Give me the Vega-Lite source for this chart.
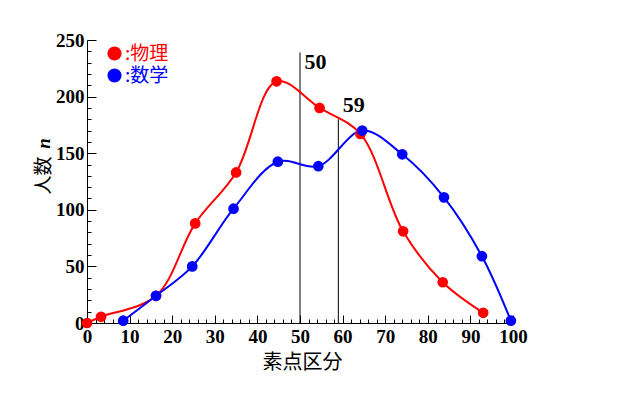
{
  "$schema": "https://vega.github.io/schema/vega-lite/v6.json",
  "width": 426,
  "height": 283,
  "autosize": {"type": "none"},
  "padding": {"left": 87, "top": 40, "right": 123, "bottom": 70},
  "background": "white",
  "config": {
    "view": {"stroke": null},
    "axis": {"grid": false, "domainColor": "black", "tickColor": "black", "labelColor": "black", "titleColor": "black", "domainWidth": 1, "tickWidth": 1}
  },
  "datasets": {
    "scores": [
      {"subject": "物理", "score": 0, "n": 0},
      {"subject": "物理", "score": 3.3, "n": 5.5},
      {"subject": "物理", "score": 16.2, "n": 24},
      {"subject": "物理", "score": 25.4, "n": 88},
      {"subject": "物理", "score": 35, "n": 133},
      {"subject": "物理", "score": 44.5, "n": 213.5},
      {"subject": "物理", "score": 54.6, "n": 190},
      {"subject": "物理", "score": 64.2, "n": 167},
      {"subject": "物理", "score": 74.2, "n": 81},
      {"subject": "物理", "score": 83.5, "n": 36},
      {"subject": "物理", "score": 93, "n": 9},
      {"subject": "数学", "score": 8.5, "n": 2},
      {"subject": "数学", "score": 16.2, "n": 24},
      {"subject": "数学", "score": 24.7, "n": 50},
      {"subject": "数学", "score": 34.4, "n": 101},
      {"subject": "数学", "score": 44.8, "n": 142.5},
      {"subject": "数学", "score": 54.3, "n": 138.5},
      {"subject": "数学", "score": 64.6, "n": 170},
      {"subject": "数学", "score": 74, "n": 149},
      {"subject": "数学", "score": 83.8, "n": 111},
      {"subject": "数学", "score": 92.7, "n": 59},
      {"subject": "数学", "score": 99.5, "n": 2}
    ],
    "refs": [
      {"score": 50, "top": 239, "labelY": 224, "label": "50"},
      {"score": 59, "top": 180, "labelY": 186, "label": "59"}
    ]
  },
  "resolve": {"axis": {"x": "independent", "y": "independent"}, "scale": {"fill": "independent"}, "legend": {"fill": "independent"}},
  "layer": [
    {
      "data": {"name": "refs"},
      "mark": {"type": "rule", "color": "black", "strokeWidth": 1},
      "encoding": {
        "x": {"field": "score", "type": "quantitative", "scale": {"domain": [0, 100], "nice": false}, "axis": null},
        "y": {"field": "top", "type": "quantitative", "scale": {"domain": [0, 250], "nice": false},
          "axis": {"orient": "left", "title": "n", "titleFont": "Liberation Serif", "titleFontStyle": "italic", "titleFontWeight": "bold", "titleFontSize": 19, "titleX": -44, "titleY": 103, "titleAngle": -90, "titleAlign": "center", "titleBaseline": "middle", "domain": false, "ticks": false, "labels": false}},
        "y2": {"datum": 0}
      }
    },
    {
      "data": {"name": "scores"},
      "mark": {"type": "line", "interpolate": "catmull-rom", "strokeWidth": 2},
      "encoding": {
        "x": {"field": "score", "type": "quantitative",
          "axis": {
            "orient": "bottom",
            "values": [0,2,4,6,8,10,12,14,16,18,20,22,24,26,28,30,32,34,36,38,40,42,44,46,48,50,52,54,56,58,60,62,64,66,68,70,72,74,76,78,80,82,84,86,88,90,92,94,96,98,100],
            "tickSize": {"condition": {"test": "datum.value % 10 === 0", "value": -8}, "value": -4},
            "labelExpr": "datum.value % 10 === 0 ? datum.label : ''",
            "labelFont": "Liberation Serif", "labelFontWeight": "bold", "labelFontSize": 19, "labelPadding": 12,
            "labelFlush": false, "labelOverlap": false, "labelBound": false,
            "title": "素点区分", "titleFont": "Noto Sans CJK JP", "titleFontWeight": "normal", "titleFontSize": 20,
            "titleX": 215, "titleY": 39, "titleAlign": "center", "titleBaseline": "middle"
          }},
        "y": {"field": "n", "type": "quantitative",
          "axis": {
            "orient": "left",
            "values": [0,10,20,30,40,50,60,70,80,90,100,110,120,130,140,150,160,170,180,190,200,210,220,230,240,250],
            "tickSize": {"condition": {"test": "datum.value % 50 === 0", "value": -9}, "value": -4},
            "labelExpr": "datum.value % 50 === 0 ? datum.label : ''",
            "labelFont": "Liberation Serif", "labelFontWeight": "bold", "labelFontSize": 19, "labelPadding": 12,
            "labelFlush": false, "labelOverlap": false, "labelBound": false,
            "title": "人数", "titleFont": "Noto Sans CJK JP", "titleFontWeight": "normal", "titleFontSize": 19,
            "titleX": -44, "titleY": 135, "titleAngle": -90, "titleAlign": "center", "titleBaseline": "middle"
          }},
        "stroke": {"field": "subject", "type": "nominal", "scale": {"domain": ["物理", "数学"], "range": ["#ff0000", "#0000ff"]}, "legend": null},
        "order": {"field": "score", "type": "quantitative"}
      }
    },
    {
      "data": {"name": "scores"},
      "transform": [{"filter": "datum.subject === '物理'"}],
      "mark": {"type": "point", "filled": true, "size": 115, "opacity": 1, "shape": "circle"},
      "encoding": {
        "x": {"field": "score", "type": "quantitative", "axis": null},
        "y": {"field": "n", "type": "quantitative", "axis": null},
        "fill": {"field": "subject", "type": "nominal", "scale": {"domain": ["物理"], "range": ["#ff0000"]},
          "legend": {
            "orient": "none", "legendX": 18, "legendY": 4, "title": null,
            "symbolType": "circle", "symbolSize": 200, "symbolStrokeWidth": 0,
            "labelFont": "Noto Sans CJK JP", "labelFontSize": 19, "labelOffset": 1,
            "labelExpr": "':' + datum.label", "labelColor": "#ff0000"
          }}
      }
    },
    {
      "data": {"name": "scores"},
      "transform": [{"filter": "datum.subject === '数学'"}],
      "mark": {"type": "point", "filled": true, "size": 115, "opacity": 1, "shape": "circle"},
      "encoding": {
        "x": {"field": "score", "type": "quantitative", "axis": null},
        "y": {"field": "n", "type": "quantitative", "axis": null},
        "fill": {"field": "subject", "type": "nominal", "scale": {"domain": ["数学"], "range": ["#0000ff"]},
          "legend": {
            "orient": "none", "legendX": 18, "legendY": 26, "title": null,
            "symbolType": "circle", "symbolSize": 200, "symbolStrokeWidth": 0,
            "labelFont": "Noto Sans CJK JP", "labelFontSize": 19, "labelOffset": 1,
            "labelExpr": "':' + datum.label", "labelColor": "#0000ff"
          }}
      }
    },
    {
      "data": {"name": "refs"},
      "mark": {"type": "text", "align": "left", "baseline": "alphabetic", "dx": 4.5, "font": "Liberation Serif", "fontWeight": "bold", "fontSize": 22, "color": "black"},
      "encoding": {
        "x": {"field": "score", "type": "quantitative", "axis": null},
        "y": {"field": "labelY", "type": "quantitative", "axis": null},
        "text": {"field": "label"}
      }
    }
  ]
}
